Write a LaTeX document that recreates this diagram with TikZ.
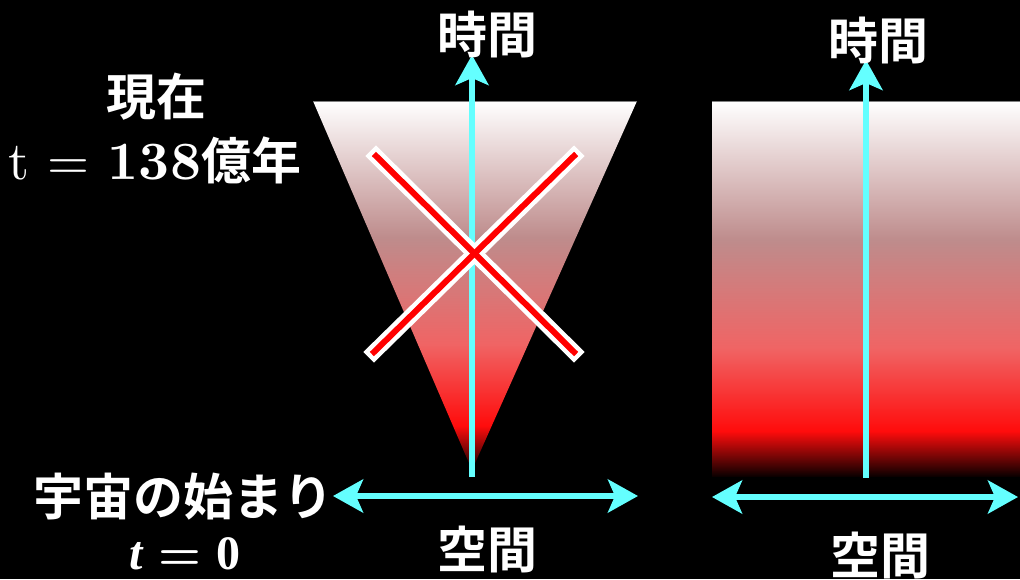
\documentclass[tikz,border=0pt]{standalone}
\usepackage{fontspec}
\newfontfamily\cjk{Noto Sans CJK JP Bold}
\newfontfamily\lmr{lmroman10-regular.otf}
\newfontfamily\lmb{lmroman10-bold.otf}
\newfontfamily\lsf{Liberation Serif}
\usetikzlibrary{arrows.meta}
\definecolor{axiscyan}{RGB}{100,255,255}
\definecolor{gA}{RGB}{190,140,140}
\definecolor{gB}{RGB}{240,100,100}
\definecolor{gC}{RGB}{255,12,12}
\definecolor{gD}{RGB}{12,0,0}
\pgfdeclareverticalshading{universe}{100bp}{color(0bp)=(gD); color(25bp)=(gD); color(31bp)=(gC); color(42bp)=(gB); color(56.5bp)=(gA); color(75bp)=(white); color(100bp)=(white)}
\tikzset{
  axis/.style={draw=axiscyan, line width=6pt, -{Stealth[length=30pt,width=33pt,inset=7pt]}},
  axis2/.style={draw=axiscyan, line width=6pt, {Stealth[length=30pt,width=33pt,inset=7pt]}-{Stealth[length=30pt,width=33pt,inset=7pt]}},
  lbl/.style={text=white, font=\fontsize{50}{56}\selectfont\cjk, inner sep=0pt},
  xwhite/.style={draw=white, line width=15pt, line cap=rect},
  xred/.style={draw=red, line width=6pt, line cap=rect},
}
\begin{document}
\begin{tikzpicture}[x=1pt,y=1pt]
\fill[black] (0,0) rectangle (1020,-579);
\useasboundingbox (0,0) rectangle (1020,-579);
% cone (left)
\shade[shading=universe] (313,-101) -- (637,-101) -- (472,-470) -- cycle;
\draw[gray, line width=1pt] (313,-101) -- (637,-101);
% slab (right)
\shade[shading=universe] (712,-101) rectangle (1020,-476);
\draw[gray, line width=1pt] (712,-101) -- (1020,-101);
% axes
\coordinate (t1s) at (472,-477);
\coordinate (t1e) at (472,-55);
\coordinate (s1a) at (333,-496);
\coordinate (s1b) at (638,-496);
\coordinate (t2s) at (866,-478);
\coordinate (t2e) at (866,-60);
\coordinate (s2a) at (712,-497);
\coordinate (s2b) at (1018,-497);
\draw[axis] (t1s) -- (t1e);
\draw[axis2] (s1a) -- (s1b);
\draw[axis] (t2s) -- (t2e);
\draw[axis2] (s2a) -- (s2b);
% cross
\coordinate (xa) at (376,-156);
\coordinate (xb) at (574,-352);
\coordinate (xc) at (574,-156);
\coordinate (xd) at (374,-352);
\draw[xwhite] (xa) -- (xb);
\draw[xwhite] (xc) -- (xd);
\draw[xred] (xa) -- (xb);
\draw[xred] (xc) -- (xd);
% labels
\node[lbl] (time1) at (487,-34) {時間};
\node[lbl] (time2) at (878,-40) {時間};
\node[lbl] (space1) at (487,-549) {空間};
\node[lbl] (space2) at (880,-555) {空間};
\node[lbl] (now) at (156,-97) {現在};
\node[lbl] (tnow) at (155,-160) {{\fontsize{54}{60}\selectfont\lmr t = \lmb 138}億年};
\node[lbl] (origin) at (183,-497) {宇宙の始まり};
\node[lbl, font=\fontsize{48}{52}\selectfont\lsf\bfseries] (tzero) at (185,-554) {\textit{t}\hspace{0.3em}{\lmb =}\hspace{0.3em}0};
\end{tikzpicture}
\end{document}
